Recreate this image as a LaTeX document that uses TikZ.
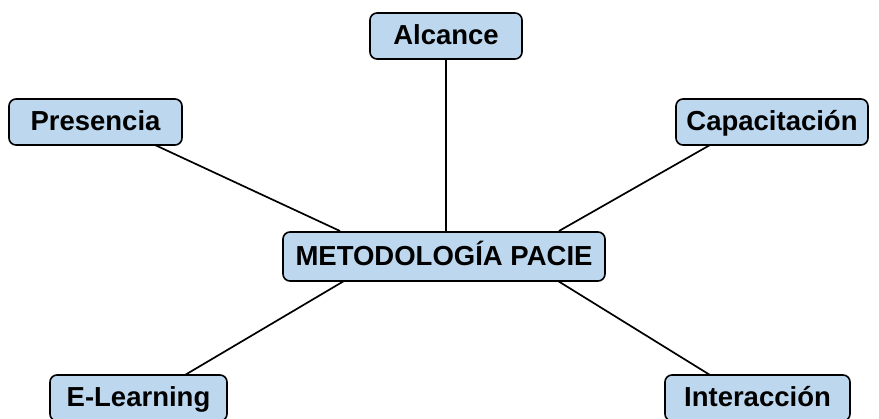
\documentclass[tikz,border=0pt]{standalone}
\usepackage{fontspec}
\setmainfont{Liberation Sans}
\definecolor{boxfill}{HTML}{BDD7EE}
\begin{document}
\begin{tikzpicture}[x=1pt,y=-1pt,
  topic/.style={draw=black,line width=1.6pt,fill=boxfill,rounded corners=7pt,
    font=\fontsize{27.5}{30}\selectfont\bfseries,inner sep=0pt,anchor=center,
    text height=20pt,text depth=2.5pt},
  link/.style={line width=1.7pt,draw=black}]
\useasboundingbox (0,0) rectangle (879,419);
\coordinate (ab) at (446,59);
\coordinate (mt) at (446,232);
\coordinate (pb) at (155,145);
\coordinate (mpl) at (340,231);
\coordinate (kb) at (710,145);
\coordinate (mkr) at (559,231);
\coordinate (et) at (185,375);
\coordinate (mel) at (344,281);
\coordinate (it) at (710,375);
\coordinate (mir) at (558,281);
\draw[link] (ab) -- (mt);
\draw[link] (pb) -- (mpl);
\draw[link] (kb) -- (mkr);
\draw[link] (et) -- (mel);
\draw[link] (it) -- (mir);
\node[topic,minimum width=322,minimum height=49] (m) at (444,256.5) {METODOLOGÍA PACIE};
\node[topic,minimum width=152,minimum height=46] (a) at (446,36) {Alcance};
\node[topic,minimum width=173,minimum height=46] (p) at (95.5,122) {Presencia};
\node[topic,minimum width=192,minimum height=46] (k) at (772,122) {Capacitación};
\node[topic,minimum width=177,minimum height=46] (e) at (138.5,398) {E-Learning};
\node[topic,minimum width=185,minimum height=46] (i) at (757.5,398) {Interacción};
\end{tikzpicture}
\end{document}
